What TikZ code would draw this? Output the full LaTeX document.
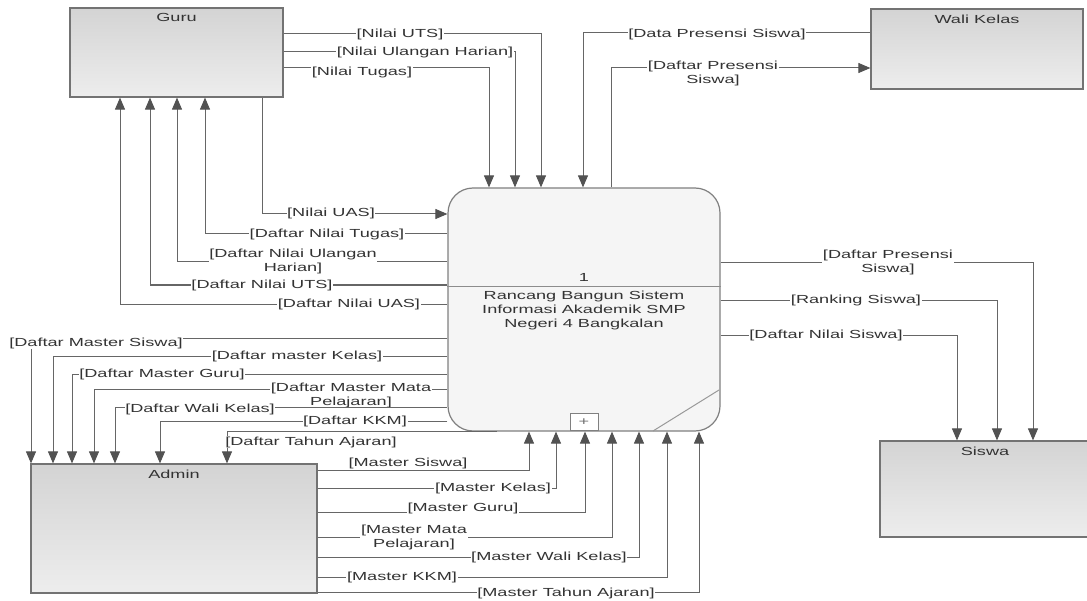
\documentclass[tikz,border=0pt]{standalone}
\usepackage{fontspec}
\setmainfont{Liberation Sans}[FakeStretch=1.55]
\usetikzlibrary{arrows.meta}
\newcommand{\lblfont}{\fontsize{11.7bp}{14bp}\selectfont}
\begin{document}
\begin{tikzpicture}[x=1bp,y=-1bp,
  entity/.style={draw=black!55, line width=1.2bp, top color=black!17, bottom color=black!7, inner sep=0pt},
  ttl/.style={anchor=north, yshift=-5bp, font=\lblfont, text=black!80, inner sep=1bp},
  flow/.style={draw=black!60, line width=1bp, -{Triangle[length=12bp,width=10bp,color=black!68]}},
  lbl/.style={fill=white, inner sep=0.6bp, font=\lblfont, text=black!80, align=center}]
\useasboundingbox (0,0) rectangle (1087,601);
\fill[white] (0,0) rectangle (1087,601);

% entities
\node[entity, minimum width=213bp, minimum height=89bp, label={[ttl]north:Guru}] (guru) at (176.5,52.5) {};
\node[entity, minimum width=212bp, minimum height=80bp, label={[ttl]north:Wali Kelas}] (wali) at (977,49) {};
\node[entity, minimum width=210bp, minimum height=96bp, label={[ttl]north:Siswa}] (siswa) at (985,489) {};
\node[entity, minimum width=286bp, minimum height=129bp, label={[ttl]north:Admin}] (admin) at (174,528.5) {};

% process
\node[draw=black!50, line width=1.2bp, fill=black!4, rounded corners=25bp, minimum width=272bp, minimum height=243bp, inner sep=0pt] (proc) at (584,309.5) {};
\draw[black!45, line width=1bp] (proc.west |- 0,286) -- (proc.east |- 0,286);
\node[font=\lblfont, text=black!80, inner sep=0pt] (pnum) at (584,277) {1};
\node[font=\lblfont, text=black!80, align=center, inner sep=0pt] (ptext) at (584,310) {Rancang Bangun Sistem\\Informasi Akademik SMP\\Negeri 4 Bangkalan};
\draw[black!40, line width=1bp] (653,431) -- (719,390);
\node[draw=black!50, line width=0.8bp, fill=white, minimum width=28bp, minimum height=17bp, inner sep=0pt, anchor=south, font=\lblfont, text=black!55] (plus) at (584,431) {+};

% Guru -> process
\draw[flow] (guru.east |- 0,34) -| (541,0 |- proc.north);
\draw[flow] (guru.east |- 0,52) -| (515,0 |- proc.north);
\draw[flow] (guru.east |- 0,68) -| (489,0 |- proc.north);
\draw[flow] (262,0 |- guru.south) |- (proc.west |- 0,214);
% process -> Guru
\draw[flow] (proc.west |- 0,234) -| (205,0 |- guru.south);
\draw[flow] (proc.west |- 0,262) -| (177,0 |- guru.south);
\draw[flow] (proc.west |- 0,285) -| (150,0 |- guru.south);
\draw[flow] (proc.west |- 0,304) -| (120,0 |- guru.south);
% Wali Kelas
\draw[flow] (wali.west |- 0,33) -| (583,0 |- proc.north);
\draw[flow] (611,0 |- proc.north) |- (wali.west |- 0,68);
% Siswa
\draw[flow] (proc.east |- 0,263) -| (1033,0 |- siswa.north);
\draw[flow] (proc.east |- 0,300) -| (997,0 |- siswa.north);
\draw[flow] (proc.east |- 0,335) -| (957,0 |- siswa.north);
% process -> Admin
\draw[flow] (proc.west |- 0,338) -| (31,0 |- admin.north);
\draw[flow] (proc.west |- 0,356) -| (53,0 |- admin.north);
\draw[flow] (proc.west |- 0,374) -| (72,0 |- admin.north);
\draw[flow] (proc.west |- 0,389) -| (94,0 |- admin.north);
\draw[flow] (proc.west |- 0,421) -| (160,0 |- admin.north);
\draw[flow] (497,0 |- proc.south) -| (227,0 |- admin.north);
% Admin -> process
\draw[flow] (admin.east |- 0,470) -| (529,0 |- proc.south);
\draw[flow] (admin.east |- 0,488) -| (556,0 |- proc.south);
\draw[flow] (admin.east |- 0,512) -| (585,0 |- proc.south);
\draw[flow] (admin.east |- 0,537) -| (612,0 |- proc.south);
\draw[flow] (admin.east |- 0,557) -| (639,0 |- proc.south);
\draw[flow] (admin.east |- 0,577) -| (667,0 |- proc.south);
\draw[flow] (admin.east |- 0,592) -| (699,0 |- proc.south);

% labels
\node[lbl] (l1) at (400,34) {[Nilai UTS]};
\node[lbl] (l2) at (425,52) {[Nilai Ulangan Harian]};
\node[lbl] (l3) at (362,72) {[Nilai Tugas]};
\node[lbl] (l4) at (331,213) {[Nilai UAS]};
\node[lbl] (l5) at (327,234) {[Daftar Nilai Tugas]};
\node[lbl] (l6) at (293,261) {[Daftar Nilai Ulangan\\Harian]};
\node[lbl] (l7) at (262,285) {[Daftar Nilai UTS]};
\node[lbl] (l8) at (349,304) {[Daftar Nilai UAS]};
\node[lbl] (l9) at (717,34) {[Data Presensi Siswa]};
\node[lbl] (l10) at (713,73) {[Daftar Presensi\\Siswa]};
\node[lbl] (l11) at (888,262) {[Daftar Presensi\\Siswa]};
\node[lbl] (l12) at (856,300) {[Ranking Siswa]};
\node[lbl] (l13) at (826,335) {[Daftar Nilai Siswa]};
\node[lbl] (l14) at (96,343) {[Daftar Master Siswa]};
\node[lbl] (l15) at (297,356) {[Daftar master Kelas]};
\node[lbl] (l16) at (162,374) {[Daftar Master Guru]};
\node[lbl] (l17) at (351,395) {[Daftar Master Mata\\Pelajaran]};
\node[lbl] (l19) at (355,421) {[Daftar KKM]};
\node[lbl] (l20) at (311,442) {[Daftar Tahun Ajaran]};
\node[lbl] (l21) at (408,463) {[Master Siswa]};
\node[lbl] (l22) at (493,488) {[Master Kelas]};
\node[lbl] (l23) at (463,508) {[Master Guru]};
\node[lbl] (l24) at (414,537) {[Master Mata\\Pelajaran]};
\node[lbl] (l25) at (549,557) {[Master Wali Kelas]};
\node[lbl] (l26) at (402,577) {[Master KKM]};
\node[lbl] (l27) at (566,593) {[Master Tahun Ajaran]};
% Daftar Wali Kelas drawn last so it stays visible under the label above
\draw[flow] (proc.west |- 0,407) -| (115,0 |- admin.north);
\node[lbl] (l18) at (200,409) {[Daftar Wali Kelas]};
\end{tikzpicture}
\end{document}
